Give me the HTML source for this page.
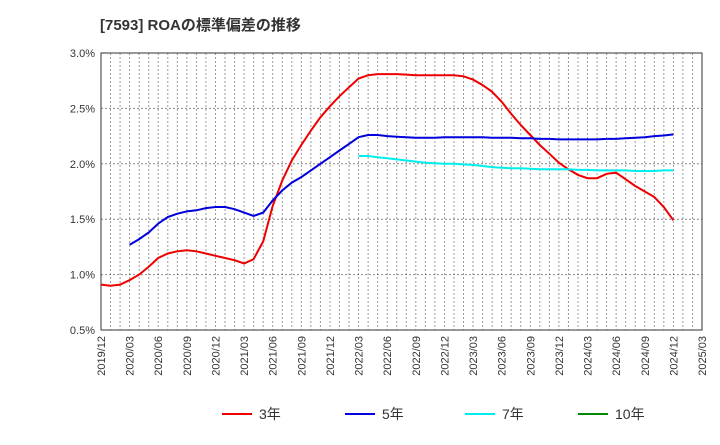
<!DOCTYPE html>
<html><head><meta charset="utf-8"><style>
body{margin:0;background:#fff;font-family:"Liberation Sans","Noto Sans CJK JP",sans-serif;}
</style></head><body>
<svg id="c" width="720" height="440" xmlns="http://www.w3.org/2000/svg">
<text x="100" y="30" font-size="15" font-weight="bold" fill="#333" font-family="Liberation Sans, Noto Sans CJK JP, sans-serif">[7593]  ROAの標準偏差の推移</text>
<g id="grid"></g><g id="axes"></g><g id="series"></g><g id="legend"></g>
</svg>
<script>
const yTicks=[0.5,1.0,1.5,2.0,2.5,3.0];
const xLabels=["2019/12","2020/03","2020/06","2020/09","2020/12","2021/03","2021/06","2021/09","2021/12","2022/03","2022/06","2022/09","2022/12","2023/03","2023/06","2023/09","2023/12","2024/03","2024/06","2024/09","2024/12","2025/03"];
const s3=[0.91,0.90,0.91,0.95,1.00,1.07,1.15,1.19,1.21,1.22,1.21,1.19,1.17,1.15,1.13,1.10,1.14,1.30,1.62,1.85,2.03,2.17,2.30,2.42,2.52,2.61,2.69,2.77,2.80,2.81,2.81,2.81,2.805,2.80,2.80,2.80,2.80,2.80,2.79,2.76,2.71,2.65,2.56,2.45,2.35,2.26,2.17,2.09,2.01,1.95,1.90,1.87,1.87,1.91,1.92,1.86,1.80,1.75,1.70,1.61,1.49];
const s3start=0;
const s5=[1.27,1.32,1.38,1.46,1.52,1.55,1.57,1.58,1.60,1.61,1.61,1.59,1.56,1.53,1.56,1.67,1.76,1.83,1.88,1.94,2.00,2.06,2.12,2.18,2.24,2.26,2.26,2.25,2.245,2.24,2.235,2.235,2.235,2.24,2.24,2.24,2.24,2.24,2.235,2.235,2.235,2.23,2.23,2.225,2.225,2.22,2.22,2.22,2.22,2.22,2.225,2.225,2.23,2.235,2.24,2.25,2.255,2.265];
const s5start=3;
const s7=[2.07,2.07,2.06,2.05,2.04,2.03,2.02,2.01,2.005,2.00,2.00,1.995,1.99,1.98,1.97,1.965,1.96,1.96,1.955,1.95,1.95,1.95,1.95,1.945,1.945,1.94,1.94,1.94,1.94,1.935,1.935,1.935,1.94,1.94];
const s7start=27;
const L=101,R=702,T=53,B=330,NS="http://www.w3.org/2000/svg";
const xm=i=>L+i*(R-L)/63, yv=v=>T+(3.0-v)/2.5*(B-T);
function mk(t,a,p){const e=document.createElementNS(NS,t);for(const k in a)e.setAttribute(k,a[k]);document.getElementById(p).appendChild(e);return e;}
for(let i=1;i<63;i++){const l=mk('line',{x1:xm(i),x2:xm(i),y1:T,y2:B,stroke:'#999','stroke-dasharray':'2,2','stroke-width':1},'grid');

}
yTicks.forEach(v=>{const l=mk('line',{x1:L,x2:R,y1:yv(v),y2:yv(v),stroke:'#888','stroke-dasharray':'2,2'},'grid');


const t=mk('text',{x:L-6,y:yv(v)+4,'text-anchor':'end','font-size':11,fill:'#333'},'axes');t.textContent=v.toFixed(1)+'%';

});
const fr=mk('rect',{x:L,y:T,width:R-L,height:B-T,fill:'none',stroke:'#333'},'axes');


xLabels.forEach((s,i)=>{const x=xm(i*3);const t=mk('text',{x:x+4,y:B+6,'text-anchor':'end','font-size':11,fill:'#333',transform:`rotate(-90 ${x+4} ${B+6})`},'axes');t.textContent=s;

});
function line(arr,st,col,name){const p=arr.map((v,i)=>(i?'L':'M')+xm(st+i).toFixed(1)+','+yv(v).toFixed(1)).join('');
const e=mk('path',{d:p,fill:'none',stroke:col,'stroke-width':2},'series');

}
line(s3,s3start,'#e00','series-3yr');
line(s5,s5start,'#00d','series-5yr');
line(s7,s7start,'#0ee','series-7yr');
const leg=[['3年','#e00',222],['5年','#00d',345],['7年','#0ee',465],['10年','#080',578]];
leg.forEach(([n,c,x])=>{const l=mk('line',{x1:x,x2:x+30,y1:414,y2:414,stroke:c,'stroke-width':2},'legend');


const t=mk('text',{x:x+37,y:419,'font-size':14,fill:'#333'},'legend');t.textContent=n;

});
</script>
</body></html>
